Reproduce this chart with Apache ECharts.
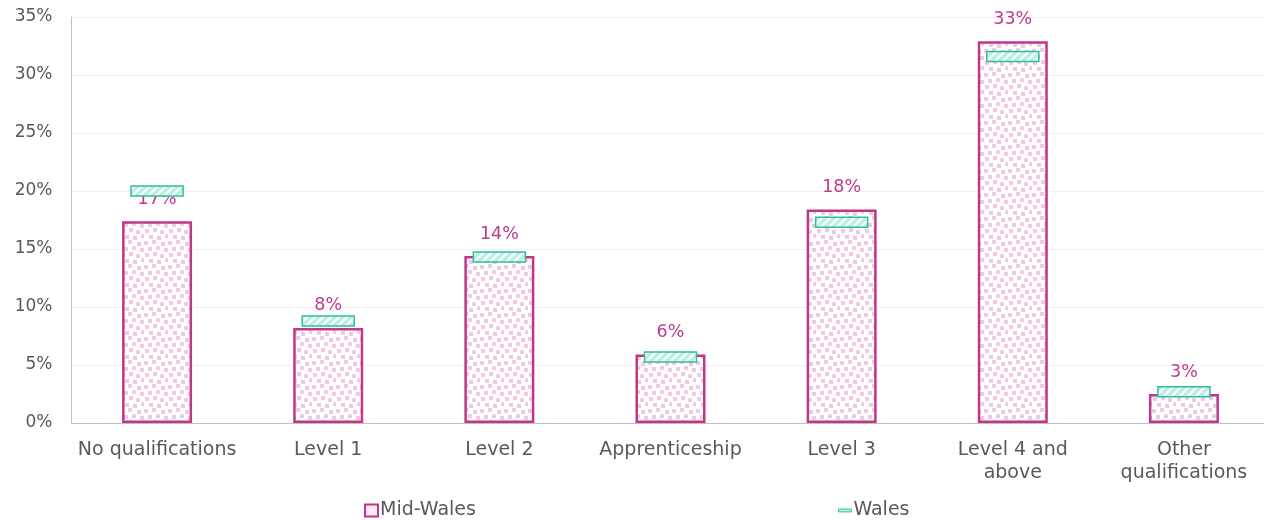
<!DOCTYPE html>
<html>
<head>
<meta charset="utf-8">
<title>Qualifications</title>
<script src="https://cdn.jsdelivr.net/npm/echarts@6/dist/echarts.min.js"></script>
<style>
  html, body { margin: 0; padding: 0; background: #fff; }
  #chart { width: 1264px; height: 520px; }
</style>
</head>
<body>
<div id="chart"></div>
<script>
var categories = ['No qualifications', 'Level 1', 'Level 2', 'Apprenticeship', 'Level 3', 'Level 4 and\nabove', 'Other\nqualifications'];
var midWales = [17.4, 8.2, 14.4, 5.9, 18.4, 32.9, 2.5];
var wales = [20.0, 8.8, 14.3, 5.7, 17.3, 31.6, 2.7];
var yTicks = [0, 5, 10, 15, 20, 25, 30, 35];

var font = '"DejaVu Sans", sans-serif';

// pink speckled texture for Mid-Wales bars
function dotPattern() {
    var c = document.createElement('canvas');
    c.width = 24; c.height = 24;
    var ctx = c.getContext('2d');
    ctx.fillStyle = '#ffffff';
    ctx.fillRect(0, 0, 24, 24);
    ctx.fillStyle = '#F1C9E3';
    var pts = [[0, 1], [8, 0], [17, 2], [4, 7], [12, 6], [20, 8], [1, 13], [9, 12], [16, 14], [5, 19], [13, 20], [21, 18]];
    pts.forEach(function (p) { ctx.fillRect(p[0], p[1], 4, 4); });
    return c;
}

// teal diagonal hatch for Wales markers
function hatchPattern() {
    var c = document.createElement('canvas');
    c.width = 8; c.height = 8;
    var ctx = c.getContext('2d');
    ctx.fillStyle = '#BDEFE3';
    ctx.fillRect(0, 0, 8, 8);
    ctx.strokeStyle = '#ffffff';
    ctx.lineWidth = 2;
    ctx.beginPath();
    ctx.moveTo(-2, 10); ctx.lineTo(10, -2);
    ctx.moveTo(-2, 2); ctx.lineTo(2, -2);
    ctx.moveTo(6, 10); ctx.lineTo(10, 6);
    ctx.stroke();
    return c;
}

var chart = echarts.init(document.getElementById('chart'));
var dots = { image: dotPattern(), repeat: 'repeat' };
var hatch = { image: hatchPattern(), repeat: 'repeat' };

var option = {
    animation: false,
    textStyle: { fontFamily: font },
    grid: { left: 71.5, top: 17, width: 1198, bottom: 97, containLabel: false, outerBoundsMode: 'none' },
    legend: {
        left: 364,
        top: 501,
        padding: 0,
        itemGap: 362,
        itemWidth: 13,
        itemHeight: 12,
        textStyle: { fontSize: 19, color: '#595959', fontFamily: font, padding: [0, 0, 0, -3] },
        data: [
            { name: 'Mid-Wales', icon: 'rect', itemStyle: { color: '#FBEAF5', borderColor: '#C0378A', borderWidth: 2 } },
            { name: 'Wales', icon: 'path://M0,0h14v3h-14z', itemStyle: { color: '#BDEFE3', borderColor: '#2BBF9F', borderWidth: 1 } }
        ]
    },
    xAxis: {
        type: 'category',
        data: categories,
        axisLine: { lineStyle: { color: '#BFBFBF', width: 1 } },
        axisTick: { show: false },
        axisLabel: { fontSize: 19, color: '#595959', lineHeight: 23, margin: 16, interval: 0 }
    },
    yAxis: {
        type: 'value',
        min: 0,
        max: 35,
        interval: 5,
        axisLine: { show: true, lineStyle: { color: '#BFBFBF' } },
        axisTick: { show: false },
        splitLine: { lineStyle: { color: '#F0F0F0' } },
        axisLabel: {
            fontSize: 17, color: '#595959', margin: 19,
            formatter: function (v) { return yTicks.indexOf(v) >= 0 ? v + '%' : ''; }
        }
    },
    series: [
        {
            name: 'Mid-Wales',
            type: 'bar',
            data: midWales,
            barWidth: 70,
            itemStyle: { color: dots, borderColor: '#C0378A', borderWidth: 2.5 },
            label: {
                show: true,
                position: 'top',
                distance: 13,
                fontSize: 17.5,
                color: '#BE3A8C',
                formatter: function (p) { return Math.round(p.value) + '%'; }
            },
            z: 2
        },
        {
            name: 'Wales',
            type: 'custom',
            data: wales.map(function (v, i) { return [i, v]; }),
            renderItem: function (params, api) {
                var pt = api.coord([api.value(0), api.value(1)]);
                return {
                    type: 'rect',
                    shape: { x: pt[0] - 26, y: pt[1] - 5, width: 52, height: 10 },
                    style: { fill: hatch, stroke: '#2BBF9F', lineWidth: 1.5 }
                };
            },
            encode: { x: 0, y: 1 },
            z: 3
        }
    ]
};
chart.setOption(option);
</script>
</body>
</html>
